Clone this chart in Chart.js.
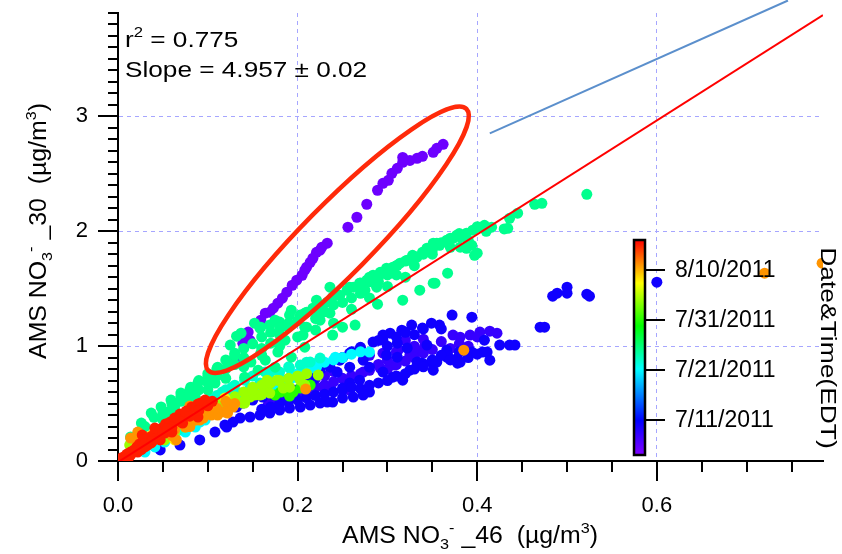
<!DOCTYPE html>
<html>
<head>
<meta charset="utf-8">
<style>
  html, body { margin: 0; padding: 0; background: #fff; }
  #wrap { width: 842px; height: 554px; }
</style>
</head>
<body>
<div id="wrap"><canvas id="scatter" width="842" height="554"></canvas></div>
<script src="https://cdn.jsdelivr.net/npm/chart.js@4.4.1/dist/chart.umd.min.js"></script>
<script>
// points, grouped by the date their colour stands for
const jul05X = [0.362,0.355,0.351,0.339,0.333,0.325,0.317,0.317,0.311,0.305,0.301,0.295,0.289,0.277,0.266,0.256,0.233,0.227,0.221,0.214,0.210,0.205,0.199,0.194,0.188,0.183,0.178,0.173,0.169,0.164,0.159,0.145,0.139,0.131,0.144,0.225,0.217,0.208,0.147]
const jul05Y = [2.757,2.722,2.687,2.652,2.635,2.617,2.600,2.643,2.548,2.504,2.443,2.417,2.357,2.235,2.122,2.035,1.896,1.861,1.817,1.730,1.687,1.617,1.574,1.530,1.470,1.417,1.374,1.330,1.296,1.287,1.226,1.122,1.026,0.896,1.052,1.835,1.765,1.661,1.050]

const jul08X = [0.373,0.381,0.403,0.414,0.422,0.333,0.228,0.167,0.295,0.392,0.325,0.308,0.292,0.253,0.236,0.203,0.186,0.258,0.342,0.273,0.312,
  0.17,0.18,0.19,0.20,0.21,0.22,0.23,0.24,0.25,0.26,0.27,0.28,0.29,0.30,0.31,0.32,0.33,0.34,0.35,0.37,0.38,0.40,0.21,0.22,0.23,0.24,0.28,0.30,0.31,0.32,0.33,0.34,0.36,0.39]
const jul08Y = [1.096,1.078,1.122,1.130,1.113,0.965,0.643,0.487,0.939,1.096,0.922,0.835,0.809,0.704,0.635,0.574,0.530,0.617,1.009,0.774,0.965,
  0.53,0.56,0.59,0.62,0.60,0.64,0.66,0.69,0.72,0.74,0.76,0.79,0.84,0.80,0.84,0.87,0.90,0.94,0.97,0.98,1.02,1.08,0.68,0.72,0.74,0.78,0.92,0.88,0.95,1.05,1.00,1.06,1.04,1.00]

const jul10X = [0.372,0.394,0.327,0.339,0.349,0.358,0.316,0.303,0.295,0.425,0.436,0.442,0.470,0.475,0.408,0.406,0.414,0.394,0.378,0.378,0.366,0.366,0.344,0.349,0.351,0.339,0.325,0.317,0.306,0.295,0.280,0.273,0.269,0.258,0.250,0.280,0.273,0.262,0.250,0.239,0.233,0.225,0.214,0.203,0.191,0.180,0.169,0.158,0.147,0.136,0.128,0.119,0.322,0.311,0.295,0.284,0.269,0.258,0.247,0.236,0.225,0.214,0.203,0.191,0.258,0.244,0.311,0.299,0.333,0.355,0.217,0.206,0.195,0.184,0.173,0.161,0.150,0.139,0.132,0.489,0.500,0.500,0.484,0.522,0.525,0.411,0.381,0.367,0.600,0.121,0.091,0.069,0.047,0.108,
  0.16,0.17,0.18,0.19,0.20,0.21,0.22,0.23,0.24,0.25,0.26,0.27,0.28,0.29,0.30,0.31,0.32,0.33,0.34,0.35,0.36,0.37,0.38,0.39,0.40,0.29,0.31,0.32,0.34,0.36,0.25,0.26,0.27,0.30,0.33]
const jul10Y = [1.270,1.252,1.183,1.157,1.200,1.183,1.139,1.113,1.096,1.009,1.009,1.009,1.165,1.165,1.052,0.948,0.878,0.948,0.896,0.852,0.965,0.904,1.009,0.861,0.791,0.852,0.791,0.704,0.730,0.774,0.817,0.878,0.704,0.678,0.635,0.600,0.574,0.557,0.548,0.513,0.513,0.504,0.487,0.470,0.461,0.443,0.417,0.400,0.383,0.374,0.339,0.313,0.983,1.026,1.052,1.035,0.965,0.939,0.878,0.817,0.791,0.765,0.748,0.722,0.817,0.774,0.904,0.922,0.861,0.861,0.704,0.643,0.617,0.591,0.574,0.557,0.530,0.504,0.470,1.461,1.513,1.461,1.435,1.452,1.435,0.948,0.861,0.922,1.557,0.296,0.183,0.139,0.096,0.252,
  0.45,0.47,0.50,0.52,0.53,0.55,0.57,0.58,0.60,0.62,0.64,0.63,0.66,0.68,0.70,0.74,0.76,0.80,0.82,0.88,0.92,0.88,0.95,0.90,0.93,1.05,1.08,1.12,1.15,1.15,0.90,0.95,0.99,1.00,1.10]

const jul21X = [0.242,0.223,0.215,0.208,0.197,0.186,0.175,0.164,0.152,0.141,0.130,0.119,0.108,0.097,0.086,0.075,0.063,0.052,0.041,0.030,0.280,0.221,0.210,0.195,0.180,0.158,0.136,0.114,0.091,0.069,
  0.20,0.21,0.22,0.23,0.24,0.25,0.26,0.27,0.17,0.18,0.15,0.12,0.10,0.08,0.06,0.19,0.16,0.13]
const jul21Y = [0.904,0.861,0.809,0.774,0.730,0.704,0.678,0.635,0.600,0.557,0.513,0.470,0.417,0.357,0.296,0.252,0.209,0.165,0.122,0.078,0.948,0.817,0.791,0.730,0.661,0.591,0.530,0.443,0.339,0.270,
  0.76,0.80,0.84,0.86,0.88,0.90,0.93,0.95,0.63,0.68,0.60,0.45,0.40,0.31,0.22,0.70,0.58,0.50]

const jul23X = [0.203,0.191,0.180,0.169,0.158,0.147,0.136,0.125,0.114,0.102,0.091,0.080,0.067,0.052,0.036,0.024,0.225,0.214,0.141,0.127,0.116,0.105,0.164,
  0.06,0.07,0.08,0.09,0.10,0.11,0.12,0.13,0.15,0.17,0.19,0.21,0.04,0.05]
const jul23Y = [0.835,0.809,0.774,0.722,0.678,0.635,0.591,0.557,0.504,0.443,0.391,0.330,0.270,0.209,0.157,0.113,0.896,0.861,0.704,0.643,0.600,0.548,0.774,
  0.30,0.35,0.42,0.47,0.52,0.57,0.62,0.66,0.74,0.78,0.82,0.86,0.22,0.26]

const jul25X = [0.522,0.464,0.472,0.445,0.436,0.434,0.416,0.408,0.401,0.395,0.388,0.381,0.373,0.366,0.358,0.351,0.344,0.339,0.394,0.400,0.388,0.381,0.367,0.351,0.336,0.328,0.322,0.314,0.306,0.299,0.292,0.284,0.277,0.269,0.262,0.255,0.247,0.239,0.233,0.225,0.217,0.210,0.203,0.317,0.289,0.264,0.250,0.239,0.258,0.275,0.288,0.303,0.280,0.236,0.221,0.236,0.225,0.210,0.206,0.377,0.355,0.333,0.311,0.273,0.191,0.180,0.169,0.158,0.353,0.397,0.159,0.175,0.193,0.208,0.223,0.189,0.208,0.186,0.170,0.159,0.148,0.130,0.122,0.111,0.100,0.089,0.081,0.070,0.059,0.048,0.037,0.026,0.014,0.208,0.193,0.175,0.156,0.141,0.178,0.164,0.108,0.086,0.075,0.063,0.052,0.132,0.137,0.125,0.152,
  0.03,0.04,0.05,0.06,0.07,0.08,0.09,0.10,0.11,0.12,0.13,0.14,0.15,0.16,0.17,0.18,0.19,0.20,0.06,0.08,0.10,0.12,0.14,0.16,0.18,0.20,0.22,0.24,0.26,0.28,0.30,0.32,0.23,0.25,0.27,0.29,0.31,0.33,0.35,0.37,0.39,0.41,0.43,
  0.26,0.28,0.30,0.32,0.34,0.36,0.38,0.40,0.27,0.29,0.31,0.33,0.35,0.37,0.22,0.24,0.18,0.16,0.14,0.12,0.10,0.08,0.06,0.05,0.07,0.09,0.11,0.13]
const jul25Y = [2.322,2.235,2.243,2.157,2.113,2.026,2.035,2.052,2.035,2.009,1.983,1.948,1.939,1.922,1.878,1.896,1.852,1.817,1.878,1.809,1.852,1.861,1.635,1.548,1.487,1.791,1.748,1.722,1.687,1.678,1.643,1.617,1.574,1.548,1.513,1.487,1.443,1.426,1.383,1.357,1.330,1.296,1.270,1.400,1.365,1.183,1.165,1.096,1.513,1.487,1.513,1.635,1.600,1.513,1.400,1.287,1.226,1.165,1.096,1.965,1.896,1.774,1.704,1.513,1.270,1.209,1.183,1.157,1.548,1.791,1.165,1.226,1.313,1.287,1.313,1.165,1.165,1.052,1.026,0.939,0.861,0.939,0.852,0.817,0.730,0.678,0.643,0.591,0.530,0.470,0.417,0.330,0.209,0.991,0.904,0.817,0.791,0.730,0.948,0.878,0.678,0.557,0.530,0.470,0.426,1.087,1.113,1.009,1.200,
  0.30,0.38,0.42,0.50,0.56,0.62,0.70,0.76,0.80,0.88,0.92,0.98,1.02,1.08,1.12,1.16,1.20,1.22,0.40,0.52,0.62,0.72,0.82,0.92,1.00,1.08,1.14,1.20,1.32,1.42,1.52,1.60,1.30,1.38,1.46,1.56,1.62,1.70,1.80,1.86,1.92,2.00,2.02,
  1.42,1.56,1.62,1.74,1.80,1.90,1.98,2.04,1.55,1.60,1.70,1.78,1.84,1.94,1.24,1.36,1.10,0.98,0.90,0.80,0.68,0.58,0.45,0.36,0.52,0.62,0.74,0.84]

const jul31X = [0.195,0.181,0.203,0.191,0.175,0.214]
const jul31Y = [0.600,0.600,0.635,0.565,0.574,0.661]

const aug04X = [0.177,0.184,0.191,0.169,0.158,0.147,0.139,0.125,0.114,0.164,0.152,0.141,0.130,0.119,0.108,0.097,0.086,0.075,0.063,0.052,0.037,0.208,0.203,0.223,0.150,0.166,0.024,0.013,
  0.09,0.10,0.11,0.12,0.13,0.14,0.15,0.16,0.17,0.18,0.19,0.20,0.21,0.12,0.14,0.16,0.07,0.08]
const aug04Y = [0.704,0.635,0.643,0.591,0.574,0.557,0.504,0.470,0.443,0.635,0.574,0.504,0.530,0.470,0.470,0.426,0.357,0.296,0.243,0.183,0.157,0.661,0.704,0.748,0.643,0.704,0.209,0.139,
  0.42,0.46,0.50,0.53,0.56,0.60,0.62,0.66,0.68,0.70,0.72,0.74,0.76,0.48,0.52,0.58,0.33,0.36]

const aug08X = [0.002,0.007,0.011,0.017,0.021,0.029,0.036,0.045,0.056,0.065,0.076,0.063,0.102,0.119]
const aug08Y = [0.009,0.026,0.043,0.078,0.130,0.183,0.217,0.270,0.322,0.374,0.426,0.183,0.487,0.548]

const aug11X = [0.086,0.095,0.104,0.111,0.119,0.065,0.063,0.022,0.014,0.022,0.075,0.091,0.121,0.128,0.100,0.111,0.122,0.092,0.209,0.720,0.784,0.385,0.047,0.036,0.080,
  0.03,0.05,0.06,0.07,0.08,0.09,0.10,0.11,0.12,0.13,0.04,0.06,0.08]
const aug11Y = [0.357,0.374,0.400,0.417,0.426,0.183,0.270,0.252,0.200,0.165,0.296,0.357,0.443,0.470,0.417,0.400,0.417,0.374,0.626,1.635,1.722,0.965,0.226,0.174,0.478,
  0.15,0.25,0.30,0.34,0.38,0.44,0.50,0.46,0.52,0.50,0.24,0.22,0.30]

const aug15X = [0.004,0.008,0.011,0.014,0.018,0.021,0.024,0.028,0.031,0.036,0.040,0.045,0.049,0.053,0.058,0.063,0.069,0.076,0.082,0.089,0.097,0.086,0.092,0.089,0.075,0.067,0.059,0.052,0.045,0.037,0.030,0.022,0.014,0.008,0.033,0.047,0.060,0.072,0.041,0.027,
  0.010,0.020,0.030,0.040,0.050,0.060,0.070,0.080,0.090,0.100,0.105,0.012,0.026,0.038,0.055]
const aug15Y = [0.026,0.043,0.052,0.078,0.096,0.122,0.148,0.157,0.183,0.209,0.226,0.261,0.287,0.322,0.339,0.374,0.409,0.435,0.470,0.496,0.530,0.470,0.504,0.383,0.417,0.357,0.296,0.243,0.209,0.157,0.122,0.078,0.052,0.035,0.139,0.183,0.252,0.330,0.287,0.226,
  0.060,0.090,0.150,0.190,0.250,0.290,0.340,0.390,0.440,0.480,0.520,0.030,0.100,0.170,0.280]

const groupDates = ['7/5/2011', '7/8/2011', '7/10/2011', '7/21/2011', '7/23/2011', '7/25/2011', '7/31/2011', '8/4/2011', '8/8/2011', '8/11/2011', '8/15/2011']
const groupX = [jul05X, jul08X, jul10X, jul21X, jul23X, jul25X, jul31X, aug04X, aug08X, aug11X, aug15X]
const groupY = [jul05Y, jul08Y, jul10Y, jul21Y, jul23Y, jul25Y, jul31Y, aug04Y, aug08Y, aug11Y, aug15Y]

// fit and annotations
const fitSlope = 4.957
const fitIntercept = -0.01
const fitRangeX = [0, 0.785]
const refLineX = [0.414, 0.746]
const refLineY = [2.852, 4.009]
const ellipseTipX = [0.099, 0.3895]
const ellipseTipY = [0.774, 3.078]

// axes
const xRange = [0, 0.785]
const yRange = [0, 3.9]
const xMinorStep = 0.05
const yMinorStep = 0.1

// colour scale
const colorbarRange = ['7/4/2011', '8/16/2011']
const colorbarTicks = ['7/11/2011', '7/21/2011', '7/31/2011', '8/10/2011']
const rainbowStops = [[0, '#8000ff'], [0.16, '#0000ff'], [0.4, '#00ffff'], [0.6, '#00ff00'], [0.8, '#ffff00'], [1, '#ff0000']]

const FONT = "'Liberation Sans', Arial, sans-serif"

const dayNum = s => {
  const [m, d, y] = s.split('/').map(Number)
  return Date.UTC(y, m - 1, d) / 86400000
}
const dayFrac = s => (dayNum(s) - dayNum(colorbarRange[0])) / (dayNum(colorbarRange[1]) - dayNum(colorbarRange[0]))

const hexRgb = h => [1, 3, 5].map(i => parseInt(h.substr(i, 2), 16))
function rainbow(f) {
  for (let i = 1; i < rainbowStops.length; i++) {
    const [f1, c1] = rainbowStops[i]
    const [f0, c0] = rainbowStops[i - 1]
    if (f <= f1) {
      const t = (f - f0) / (f1 - f0)
      const a = hexRgb(c0), b = hexRgb(c1)
      return `rgb(${a.map((v, k) => Math.round(v + (b[k] - v) * t)).join(',')})`
    }
  }
  return rainbowStops[rainbowStops.length - 1][1]
}

// text with sub/superscripts; sx widens the glyphs like the original's text
function drawRich(ctx, segs, size, x, y, angle, align, sx = 1) {
  const parts = segs.map(([t, kind]) => {
    const fs = kind === 'n' ? size : Math.round(size * 0.64)
    ctx.font = `${fs}px ${FONT}`
    const dy = kind === 'sub' ? size * 0.28 : kind === 'sup' ? -size * 0.45 : 0
    return { t, fs, dy, w: ctx.measureText(t).width }
  })
  const width = parts.reduce((s, p) => s + p.w, 0)
  ctx.save()
  ctx.translate(x, y)
  ctx.rotate(angle)
  ctx.scale(sx, 1)
  ctx.fillStyle = '#000'
  ctx.textBaseline = 'alphabetic'
  ctx.textAlign = 'left'
  let cx = align === 'center' ? -width / 2 : 0
  parts.forEach(p => {
    ctx.font = `${p.fs}px ${FONT}`
    ctx.fillText(p.t, cx, p.dy)
    cx += p.w
  })
  ctx.restore()
}

const decor = {
  id: 'decor',
  afterDatasetsDraw(chart) {
    const { ctx, scales: { x, y } } = chart
    const ax = x.getPixelForValue(ellipseTipX[0]), ay = y.getPixelForValue(ellipseTipY[0])
    const bx = x.getPixelForValue(ellipseTipX[1]), by = y.getPixelForValue(ellipseTipY[1])
    ctx.save()
    ctx.strokeStyle = '#ff2a0a'
    ctx.lineWidth = 4.5
    ctx.beginPath()
    ctx.ellipse((ax + bx) / 2, (ay + by) / 2, Math.hypot(bx - ax, by - ay) / 2 - 2, 35, Math.atan2(by - ay, bx - ax), 0, Math.PI * 2)
    ctx.stroke()
    ctx.restore()
  },
  afterDraw(chart) {
    const { ctx, chartArea: area, scales: { x, y } } = chart
    ctx.save()
    ctx.strokeStyle = '#000'
    ctx.lineWidth = 2
    ctx.beginPath()
    for (let i = 0; i * xMinorStep <= xRange[1] + 1e-9; i++) {
      const px = Math.round(x.getPixelForValue(i * xMinorStep))
      ctx.moveTo(px, area.bottom)
      ctx.lineTo(px, area.bottom + (i % 4 === 0 ? 20 : 11))
    }
    for (let i = 0; i * yMinorStep <= yRange[1] + 1e-9; i++) {
      const py = Math.round(y.getPixelForValue(i * yMinorStep))
      ctx.moveTo(area.left, py)
      ctx.lineTo(area.left - (i % 10 === 0 ? 20 : 10), py)
    }
    ctx.stroke()
    ctx.restore()

    // axis titles
    drawRich(ctx, [['AMS NO', 'n'], ['3', 'sub'], ['-', 'sup'], [' _46  (µg/m', 'n'], ['3', 'sup'], [')', 'n']], 23, 470, 543, 0, 'center', 1.08)
    drawRich(ctx, [['AMS NO', 'n'], ['3', 'sub'], ['-', 'sup'], [' _30  (µg/m', 'n'], ['3', 'sup'], [')', 'n']], 23, 46, 231, -Math.PI / 2, 'center', 1.08)

    // fit statistics
    drawRich(ctx, [['r', 'n'], ['2', 'sup'], [' = 0.775', 'n']], 22, 125, 47, 0, 'left', 1.19)
    drawRich(ctx, [['Slope = 4.957 ± 0.02', 'n']], 22, 125, 77, 0, 'left', 1.19)

    // colour bar
    const cb = { left: 634, right: 645, top: 240, bottom: 455 }
    const cbY = d => cb.bottom - dayFrac(d) * (cb.bottom - cb.top)
    ctx.save()
    const g = ctx.createLinearGradient(0, cb.bottom, 0, cb.top)
    rainbowStops.forEach(([f, c]) => g.addColorStop(f, c))
    ctx.fillStyle = g
    ctx.fillRect(cb.left, cb.top, cb.right - cb.left, cb.bottom - cb.top)
    ctx.strokeStyle = '#000'
    ctx.lineWidth = 2.5
    ctx.strokeRect(cb.left, cb.top, cb.right - cb.left, cb.bottom - cb.top)
    ctx.lineWidth = 2
    ctx.font = `23px ${FONT}`
    ctx.fillStyle = '#000'
    ctx.textBaseline = 'middle'
    ctx.textAlign = 'left'
    colorbarTicks.forEach(d => {
      const py = Math.round(cbY(d))
      ctx.beginPath()
      ctx.moveTo(cb.right, py)
      ctx.lineTo(cb.right + 20, py)
      ctx.stroke()
      ctx.fillText(d, cb.right + 30, py + 1)
    })
    ctx.restore()
    drawRich(ctx, [['Date&Time(EDT)', 'n']], 22, 821, 348, Math.PI / 2, 'center', 1.2)
  }
}

const gridColor = c => (c.tick && c.tick.value === 0 ? 'rgba(0,0,0,0)' : '#a6a6ff')

const datasets = groupDates.map((d, i) => ({
  data: groupX[i].map((v, k) => ({ x: v, y: groupY[i][k] })),
  backgroundColor: rainbow(dayFrac(d)),
  borderWidth: 0,
  pointRadius: 5.5,
  order: 100 - i,
}))

datasets.push({
  data: fitRangeX.map(v => ({ x: v, y: fitSlope * v + fitIntercept })),
  showLine: true,
  borderColor: '#ff0000',
  borderWidth: 2,
  pointRadius: 0,
  order: -1,
})
datasets.push({
  data: refLineX.map((v, k) => ({ x: v, y: refLineY[k] })),
  showLine: true,
  borderColor: '#5b8fcc',
  borderWidth: 2,
  pointRadius: 0,
  clip: false,
  order: -2,
})

new Chart(document.querySelector('#scatter'), {
  type: 'scatter',
  data: { datasets },
  options: {
    responsive: false,
    animation: false,
    events: [],
    layout: { padding: { left: 0, right: 19, top: 13, bottom: 0 } },
    plugins: { legend: { display: false }, tooltip: { enabled: false } },
    scales: {
      x: {
        min: xRange[0],
        max: xRange[1],
        afterFit: s => { s.height = 93; s.paddingLeft = 0; s.paddingRight = 0 },
        ticks: { stepSize: 0.2, includeBounds: false, padding: 32, color: '#000', font: { family: FONT, size: 22 }, callback: v => v.toFixed(1), maxRotation: 0, autoSkip: false },
        grid: { color: gridColor, drawTicks: false, lineWidth: 1 },
        border: { color: '#000', width: 2, dash: [4, 4] },
      },
      y: {
        min: yRange[0],
        max: yRange[1],
        afterFit: s => { s.width = 118; s.paddingTop = 0; s.paddingBottom = 0 },
        ticks: { stepSize: 1, includeBounds: false, padding: 30, color: '#000', font: { family: FONT, size: 22 }, callback: v => String(v) },
        grid: { color: gridColor, drawTicks: false, lineWidth: 1 },
        border: { color: '#000', width: 2, dash: [4, 4] },
      },
    },
  },
  plugins: [decor],
})
</script>
</body>
</html>
